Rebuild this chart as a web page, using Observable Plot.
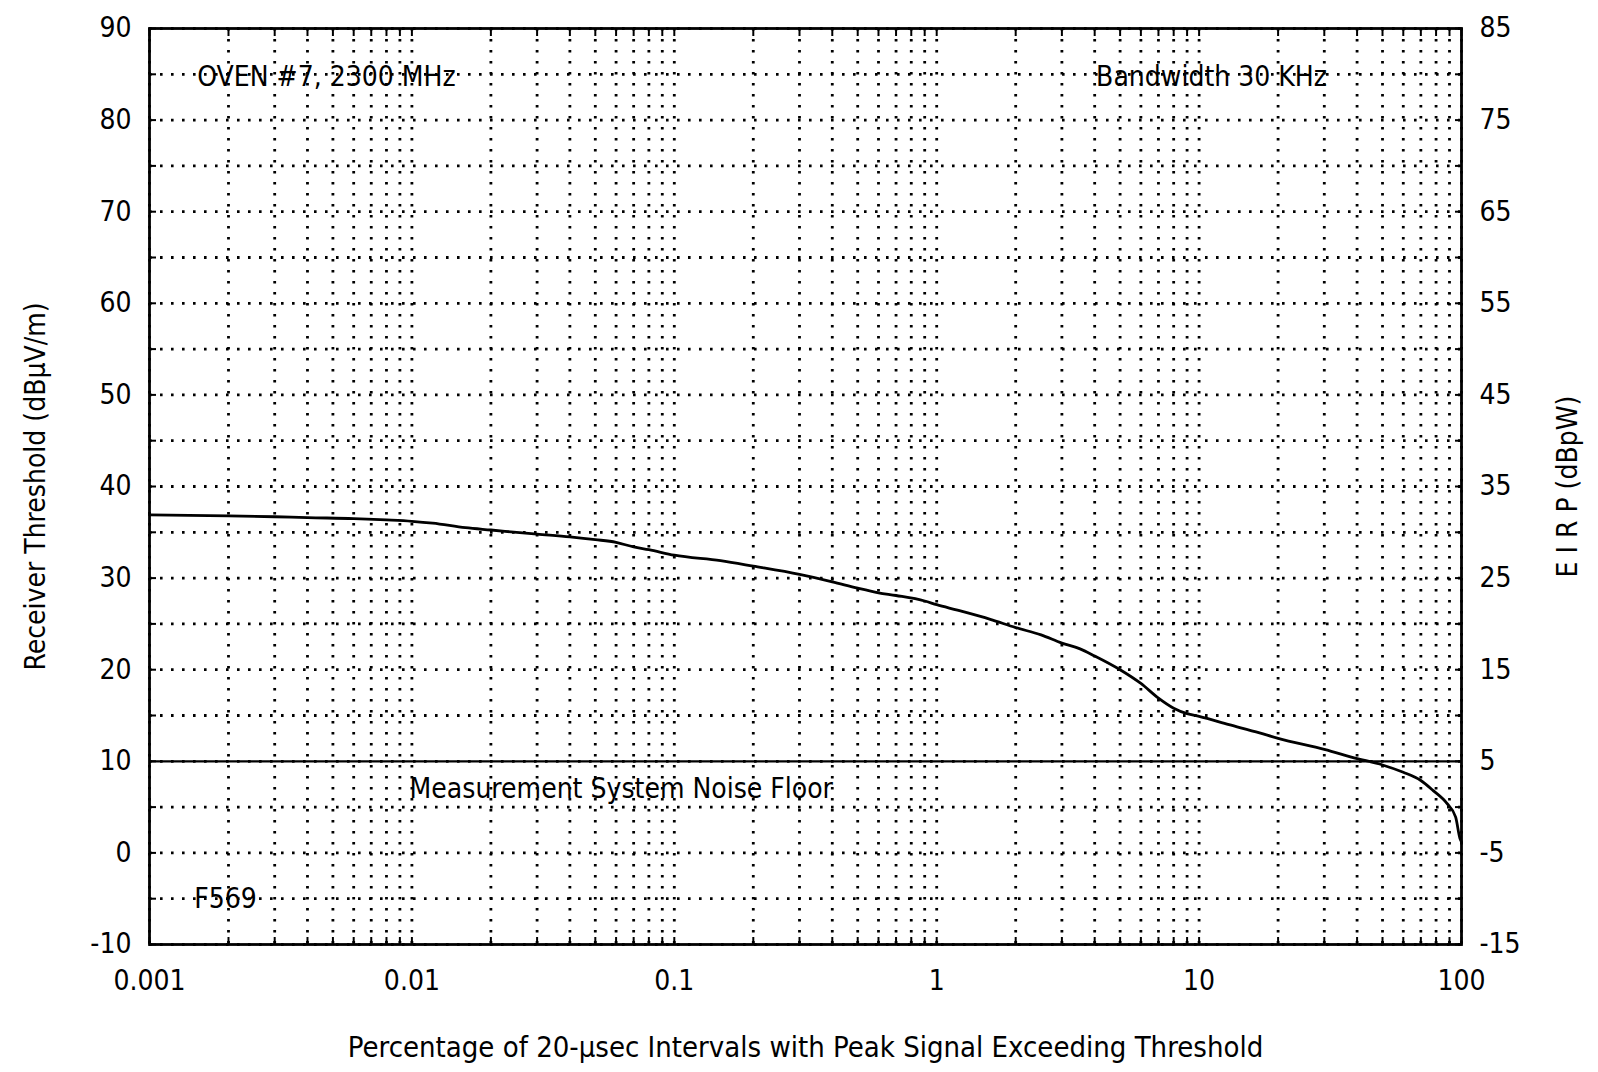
<!DOCTYPE html>
<html>
<head>
<meta charset="utf-8">
<script src="https://cdn.jsdelivr.net/npm/d3@7"></script>
<script src="https://cdn.jsdelivr.net/npm/@observablehq/plot@0.6"></script>
<style>
  html, body { margin: 0; padding: 0; background: #fff; }
  #chart svg { display: block; }
</style>
</head>
<body>
<div id="chart"></div>
<script>
// Curve: percentage of intervals (x) vs receiver threshold in dBuV/m (y)
const pct = [0.001, 0.002, 0.003, 0.004, 0.006, 0.008, 0.01, 0.012, 0.016, 0.02, 0.03, 0.04, 0.05, 0.06, 0.07, 0.08, 0.1, 0.15, 0.2, 0.3, 0.4, 0.5, 0.6, 0.7, 0.9, 1.0, 1.2, 1.6, 2, 2.5, 3, 3.5, 4, 5, 6, 7, 8, 9, 10, 13, 17, 20, 30, 40, 50, 60, 70, 78, 88, 95, 98.6, 100];
const threshold = [36.9, 36.8, 36.7, 36.6, 36.5, 36.35, 36.2, 36.0, 35.5, 35.25, 34.8, 34.5, 34.2, 33.9, 33.4, 33.1, 32.5, 31.9, 31.3, 30.4, 29.6, 28.9, 28.4, 28.1, 27.5, 27.1, 26.5, 25.5, 24.6, 23.8, 22.9, 22.3, 21.5, 20.0, 18.5, 16.9, 15.8, 15.2, 14.9, 14.0, 13.1, 12.5, 11.3, 10.3, 9.6, 8.8, 7.9, 6.8, 5.4, 3.9, 1.6, 1.2];

const noiseFloor = [10];
const xTicks = [0.001, 0.01, 0.1, 1, 10, 100];
const xTickLabels = ["0.001", "0.01", "0.1", "1", "10", "100"];
const yTicks = [-10, 0, 10, 20, 30, 40, 50, 60, 70, 80, 90];
const leftTickLabels = ["-10", "0", "10", "20", "30", "40", "50", "60", "70", "80", "90"];
const rightTickLabels = ["-15", "-5", "5", "15", "25", "35", "45", "55", "65", "75", "85"];
const yGrid = d3.range(-10, 91, 5);
const xGrid = [];
for (const dec of [0.001, 0.01, 0.1, 1, 10]) for (let m = 1; m <= 9; m++) xGrid.push(+(m * dec).toPrecision(3));
xGrid.push(100);

const annotations = [
  {x: 0.00152, y: 84.7, text: "OVEN #7, 2300 MHz"},
  {x: 4.05, y: 84.7, text: "Bandwidth 30 KHz"},
  {x: 0.0098, y: 7, text: "Measurement System Noise Floor"},
  {x: 0.00148, y: -5, text: "F569"}
];

const data = pct.map((p, i) => ({p, v: threshold[i]}));
const FONT = "'Liberation Sans Narrow', 'Arial Narrow', 'DejaVu Sans Condensed', 'Liberation Sans', sans-serif";
const dots = {stroke: "black", strokeWidth: 2.8, strokeDasharray: "2.6,8.4"};
const blank = () => "";

const chart = Plot.plot({
  width: 1598,
  height: 1072,
  marginLeft: 149,
  marginRight: 137,
  marginTop: 28,
  marginBottom: 128,
  style: {fontFamily: FONT, fontSize: "28px", color: "black", background: "white"},
  x: {type: "log", domain: [0.001, 100]},
  y: {domain: [-10, 90]},
  marks: [
    Plot.ruleX(xGrid, dots),
    Plot.ruleY(yGrid, dots),
    // small inward ticks on the frame
    Plot.axisX({anchor: "bottom", ticks: xGrid, tickSize: -7, tickFormat: blank, label: null, strokeWidth: 2}),
    Plot.axisX({anchor: "top", ticks: xGrid, tickSize: -7, tickFormat: blank, label: null, strokeWidth: 2}),
    Plot.axisY({anchor: "left", ticks: yGrid, tickSize: -7, tickFormat: blank, label: null, strokeWidth: 2}),
    Plot.axisY({anchor: "right", ticks: yGrid, tickSize: -7, tickFormat: blank, label: null, strokeWidth: 2}),
    Plot.ruleY(noiseFloor, {stroke: "black", strokeWidth: 2.2}),
    Plot.line(data, {x: "p", y: "v", stroke: "black", strokeWidth: 2.8, curve: "monotone-x"}),
    Plot.text(annotations, {x: "x", y: "y", text: "text", textAnchor: "start", fontSize: 28, fill: "black"}),
    Plot.frame({stroke: "black", strokeWidth: 2.8}),
    Plot.axisX({ticks: xTicks, tickFormat: d => xTickLabels[xTicks.indexOf(d)], tickSize: 0, tickPadding: 26,
      label: null}),
    Plot.axisX({ticks: [], label: "Percentage of 20-µsec Intervals with Peak Signal Exceeding Threshold",
      labelAnchor: "center", labelArrow: "none", labelOffset: 112, fontSize: 29}),
    Plot.axisY({anchor: "left", ticks: yTicks, tickFormat: d => leftTickLabels[yTicks.indexOf(d)], tickSize: 0, tickPadding: 18,
      label: "Receiver Threshold (dBµV/m)", labelAnchor: "center", labelArrow: "none", labelOffset: 124}),
    Plot.axisY({anchor: "right", ticks: yTicks, tickFormat: d => rightTickLabels[yTicks.indexOf(d)], tickSize: 0, tickPadding: 18,
      label: "E I R P (dBpW)", labelAnchor: "center", labelArrow: "none", labelOffset: 115})
  ]
});
document.getElementById("chart").appendChild(chart);
</script>
</body>
</html>
